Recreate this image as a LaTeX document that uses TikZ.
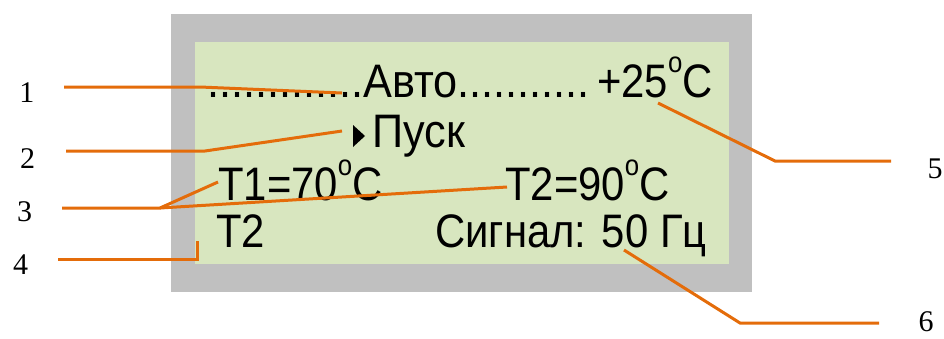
\documentclass[tikz,border=0pt]{standalone}
\usepackage{fontspec}
\setmainfont{Liberation Sans}
\newfontfamily\lcd[FakeStretch=0.92]{Liberation Sans}
\newfontfamily\lcdn[FakeStretch=0.89]{Liberation Sans}
\newfontfamily\numf{Liberation Serif}
\definecolor{frame}{RGB}{192,192,192}
\definecolor{screen}{RGB}{216,230,191}
\definecolor{lead}{RGB}{228,108,10}
\newcommand\dg{\raisebox{25pt}{\fontsize{29}{29}\selectfont o}}
\tikzset{
  lcdtext/.style={font=\lcd\fontsize{47}{47}\selectfont, inner sep=0pt, anchor=base west},
  lcdnarrow/.style={font=\lcdn\fontsize{47}{47}\selectfont, inner sep=0pt, anchor=base west},
  numlabel/.style={font=\numf\fontsize{30}{30}\selectfont, inner sep=0pt, anchor=center},
  leader/.style={draw=lead, line width=3pt},
}
\begin{document}
\begin{tikzpicture}[x=1pt,y=-1pt]
\useasboundingbox (0,0) rectangle (944,338);
\fill[frame] (171,14) rectangle (752,292);
\fill[screen] (195,42) rectangle (729,264);

% display texts
\node[lcdtext] (row1) at (207,97) {.............Авто...........};
\node[lcdnarrow] (temp) at (597,97) {+25\dg C};
\fill (353,125) -- (353,147) -- (365,136) -- cycle;
\node[lcdtext] (pusk) at (372,147) {Пуск};
\node[lcdnarrow] (tone) at (218,200) {T1=70\dg C};
\node[lcdnarrow] (ttwo) at (505,200) {T2=90\dg C};
\node[lcdnarrow] (tsel) at (216,247) {T2};
\node[lcdnarrow] (sig) at (435,247) {Сигнал: 50 Гц};

% number labels
\node[numlabel] (n1) at (27,93) {1};
\node[numlabel] (n2) at (27.5,159) {2};
\node[numlabel] (n3) at (24.5,212) {3};
\node[numlabel] (n4) at (20.5,265) {4};
\node[numlabel] (n5) at (935,169) {5};
\node[numlabel] (n6) at (926,322) {6};

% leader coordinates
\coordinate (c1a) at (64,87);  \coordinate (c1b) at (200,87);  \coordinate (c1c) at (342,93);
\coordinate (c2a) at (66,151); \coordinate (c2b) at (205,151); \coordinate (c2c) at (342,131);
\coordinate (c3a) at (62,208); \coordinate (c3b) at (160,208); \coordinate (c3c) at (218,182); \coordinate (c3d) at (507,187);
\coordinate (c4a) at (58,259); \coordinate (c4b) at (197,259); \coordinate (c4c) at (197,241);
\coordinate (c5a) at (891,161); \coordinate (c5b) at (775,161); \coordinate (c5c) at (658,103);
\coordinate (c6a) at (879,323); \coordinate (c6b) at (740,323); \coordinate (c6c) at (624,250);

\draw[leader] (c1a) -- (c1b) -- (c1c);
\draw[leader] (c2a) -- (c2b) -- (c2c);
\draw[leader] (c3a) -- (c3b) -- (c3c);
\draw[leader] (c3b) -- (c3d);
\draw[leader] (c4a) -- (c4b) -- (c4c);
\draw[leader] (c5a) -- (c5b) -- (c5c);
\draw[leader] (c6a) -- (c6b) -- (c6c);
\end{tikzpicture}
\end{document}
